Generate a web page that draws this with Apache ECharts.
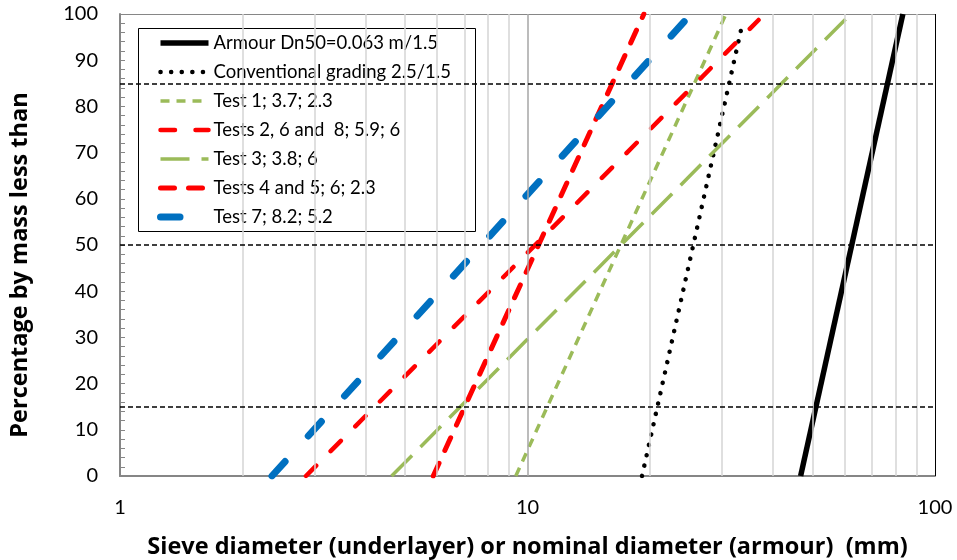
<!DOCTYPE html>
<html>
<head>
<meta charset="utf-8">
<script src="https://cdn.jsdelivr.net/npm/echarts@6/dist/echarts.min.js"></script>
<style>
  html, body { margin: 0; padding: 0; background: #fff; }
  #main { width: 957px; height: 560px; }
</style>
</head>
<body>
<div id="main"></div>
<script>
// grading lines: [diameter mm, % passing]
var armour = [[46.8, 0], [83.4, 100]];
var conventional = [[19.1, 0], [33.7, 98]];
var test1 = [[9.36, 0], [30.7, 100]];
var tests268 = [[2.86, 0], [36.9, 98.7]];
var test3 = [[4.64, 0], [62.1, 100]];
var tests45 = [[5.87, 0], [19.3, 100]];
var test7 = [[2.36, 0], [25.2, 100]];

var names = [
  'Armour Dn50=0.063 m/1.5',
  'Conventional grading 2.5/1.5',
  'Test 1; 3.7; 2.3',
  'Tests 2, 6 and  8; 5.9; 6',
  'Test 3; 3.8; 6',
  'Tests 4 and 5; 6; 2.3',
  'Test 7; 8.2; 5.2'
];

// reference levels D15 / D50 / D85
var refLevels = [15, 50, 85];
// log minor grid lines
var minorX = [2, 3, 4, 5, 6, 7, 8, 9, 20, 30, 40, 50, 60, 70, 80, 90];
var majorX = [10];

var FONT = 'Lato';
var TITLE_FONT = 'Open Sans';

var chart = echarts.init(document.getElementById('main'));

function lineSeries(name, data, color, width, dash, cap) {
  return {
    name: name,
    type: 'line',
    data: data,
    symbol: 'none',
    showSymbol: false,
    silent: true,
    z: 3,
    itemStyle: { color: color, opacity: 0 },
    lineStyle: { color: color, width: width, type: dash, cap: cap || 'butt' }
  };
}

var option = {
  animation: false,
  backgroundColor: '#fff',
  grid: { left: 120, right: 22, top: 14, bottom: 84, containLabel: false, outerBoundsMode: 'none' },
  xAxis: {
    type: 'log',
    logBase: 10,
    min: 1,
    max: 100,
    name: 'Sieve diameter (underlayer) or nominal diameter (armour)  (mm)',
    nameLocation: 'middle',
    nameGap: 59,
    nameTextStyle: { fontFamily: TITLE_FONT, fontWeight: 'bold', fontSize: 23.5, color: '#000' },
    axisLine: { lineStyle: { color: '#868686', width: 2 } },
    axisTick: { show: false },
    axisLabel: { fontFamily: FONT, fontSize: 20, color: '#000', margin: 22 },
    splitLine: { show: false }
  },
  yAxis: {
    type: 'value',
    min: 0,
    max: 100,
    interval: 10,
    name: 'Percentage by mass less than',
    nameLocation: 'middle',
    nameGap: 88,
    nameTextStyle: { fontFamily: TITLE_FONT, fontWeight: 'bold', fontSize: 23.5, color: '#000', padding: [0, 40, 0, 0] },
    axisLine: { show: true, lineStyle: { color: '#868686', width: 2 } },
    axisTick: { show: true, inside: true, length: 5, lineStyle: { color: '#868686' } },
    minorTick: { show: true, splitNumber: 5, length: 5, lineStyle: { color: '#868686' } },
    axisLabel: { fontFamily: FONT, fontSize: 20, color: '#000', margin: 22 },
    splitLine: { show: false }
  },
  legend: {
    orient: 'vertical',
    left: 138,
    top: 28,
    padding: [5, 20, 4, 19],
    itemWidth: 48,
    itemHeight: 14,
    itemGap: 9,
    data: names,
    selectedMode: false,
    lineStyle: { width: 'inherit', type: 'inherit', cap: 'inherit' },
    textStyle: { fontFamily: FONT, fontSize: 18.5, color: '#000', lineHeight: 20 }
  },
  graphic: [{
    type: 'rect',
    z: 3,
    shape: { x: 138.5, y: 28.5, width: 337, height: 203 },
    style: { fill: '#fff', stroke: '#000', lineWidth: 1 }
  }, {
    type: 'line',
    z: 3,
    shape: { x1: 120, y1: 14.5, x2: 935, y2: 14.5 },
    style: { stroke: '#868686', lineWidth: 1 }
  }, {
    type: 'line',
    z: 3,
    shape: { x1: 935.5, y1: 14, x2: 935.5, y2: 476 },
    style: { stroke: '#000', lineWidth: 1 }
  }],
  series: [
    {
      name: 'grid',
      type: 'line',
      data: [],
      silent: true,
      z: 1,
      markLine: {
        silent: true,
        symbol: 'none',
        label: { show: false },
        animation: false,
        data: minorX.map(function (v) {
          return { xAxis: v, lineStyle: { color: '#d4d4d4', width: 1.5, type: 'solid' } };
        }).concat(majorX.map(function (v) {
          return { xAxis: v, lineStyle: { color: '#a6a6a6', width: 1.5, type: 'solid' } };
        })).concat(refLevels.map(function (v) {
          return { yAxis: v, lineStyle: { color: '#000', width: 1.5, type: [5, 3] } };
        }))
      }
    },
    lineSeries(names[0], armour, '#000', 5.5, 'solid'),
    lineSeries(names[1], conventional, '#000', 4.5, [0.1, 10.5], 'round'),
    lineSeries(names[2], test1, '#9bbb59', 3.5, [9, 7]),
    lineSeries(names[3], tests268, '#ff0000', 4.5, [14.5, 20.5], 'round'),
    lineSeries(names[4], test3, '#9bbb59', 3.5, [29, 12]),
    lineSeries(names[5], tests45, '#ff0000', 5, [14, 14], 'round'),
    lineSeries(names[6], test7, '#0070c0', 7, [19.5, 34.5], 'round')
  ]
};

chart.setOption(option);
</script>
</body>
</html>
